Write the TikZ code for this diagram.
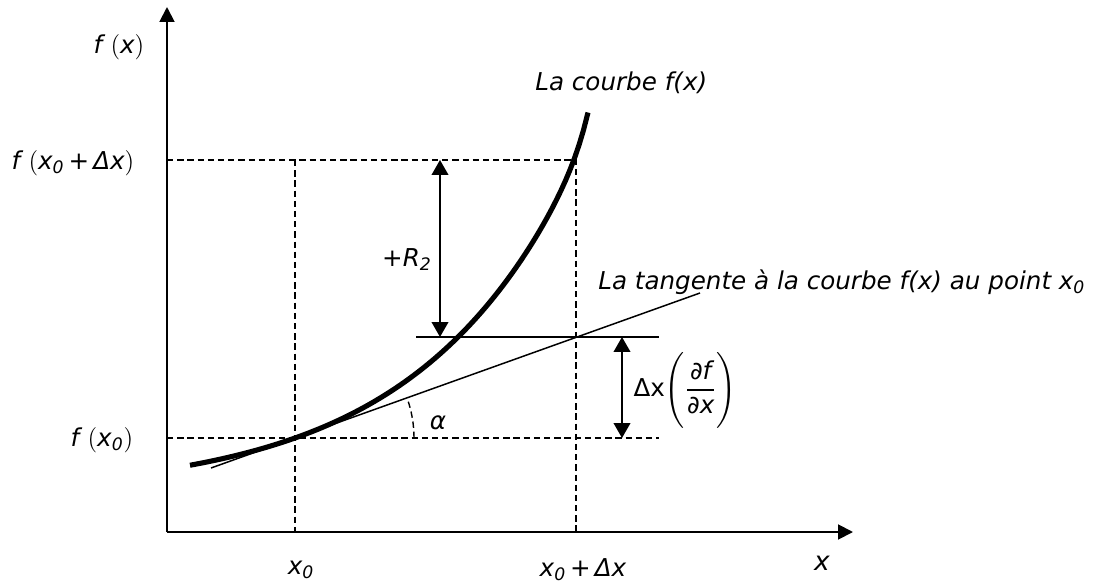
\documentclass[tikz,border=0pt]{standalone}
\usepackage{amsmath}
\usepackage{fontspec}
\setmainfont{DejaVu Sans}
\usetikzlibrary{arrows.meta, calc}
\newcommand{\zsub}{\textsubscript{0}}

\begin{document}
\begin{tikzpicture}[x=0.02cm,y=-0.02cm,
  axis/.style={line width=1.1pt,-{Triangle[length=8.5pt,width=8.5pt]}},
  guide/.style={line width=0.8pt,dash pattern=on 3.6pt off 2.2pt},
  courbe/.style={line width=2.9pt,line cap=butt},
  fine/.style={line width=0.85pt},
  cote/.style={line width=0.85pt,
               {Triangle[length=8.5pt,width=9.5pt]}-{Triangle[length=8.5pt,width=9.5pt]}},
  lbl/.style={font=\fontsize{14}{16}\selectfont\itshape,inner sep=0pt}]
\useasboundingbox (0,0) rectangle (1096,588);

% ===== points =====
\coordinate (O) at (167,532);
\coordinate (ytop) at (167,7);
\coordinate (xend) at (853,532);
\coordinate (A) at (295,438);   % point x0
\coordinate (B) at (576,160);   % point x0+dx sur la courbe
\coordinate (T) at (576,337);   % tangente en x0+dx
\coordinate (Aend) at (659,438);
\coordinate (Tbeg) at (416,337);
\coordinate (Tend) at (659,337);
\coordinate (tg0) at (211,468);
\coordinate (tg1) at (700,293);

% ===== axes =====
\draw[axis] (O) -- (ytop);
\draw[axis] (O) -- (xend);

% ===== lignes de rappel =====
\draw[guide] (O |- B) -- (B) -- (B |- O);
\draw[guide] (A |- B) -- (A |- O);
\draw[guide] (O |- A) -- (Aend);
\draw[guide] ($(A)+(119,0)$) arc[start angle=0,end angle=19.6,radius=2.38cm];

% ===== courbe et tangente =====
\draw[courbe] plot[domain=-105:293,samples=90,variable=\t]
  ({295+\t},{438-56.3*(exp(0.0063*\t)-1)-25*exp(0.08*(\t-293))});
\draw[fine] (tg0) -- (tg1);
\draw[fine] (Tbeg) -- (Tend);

% ===== cotes =====
\draw[cote] (440,160) -- (440,337);
\draw[cote] (622,337) -- (622,438);

% ===== textes =====
\node[lbl] (fx) at (119,47) {f\,\,$($x$)$};
\node[lbl] (fxd) at (73,163) {f\,\,$($x\zsub\,\textup{+}\,Δx$)$};
\node[lbl] (fx0) at (102,440) {f\,\,$($x\zsub$)$};
\node[lbl] (x0) at (301,570) {x\zsub};
\node[lbl] (x0d) at (583,570) {x\zsub\,\textup{+}\,Δx};
\node[lbl,font=\fontsize{15}{17}\selectfont\itshape] (xl) at (822,563) {x};
\node[lbl,anchor=west] (lc) at (535,83) {La courbe f(x)};
\node[lbl,anchor=west] (lt) at (598,282) {La tangente à la courbe f(x) au point x\zsub};
\node[lbl] (r2) at (407,260) {\textup{+}R\textsubscript{2}};
\node[lbl] (al) at (438,423) {α};
\node[lbl,font=\fontsize{14}{16}\selectfont] (dfx) at (685,390)
   {Δx$\Biggl(\dfrac{\text{\itshape ∂f}}{\text{\itshape ∂x}}\Biggr)$};
\end{tikzpicture}
\end{document}
